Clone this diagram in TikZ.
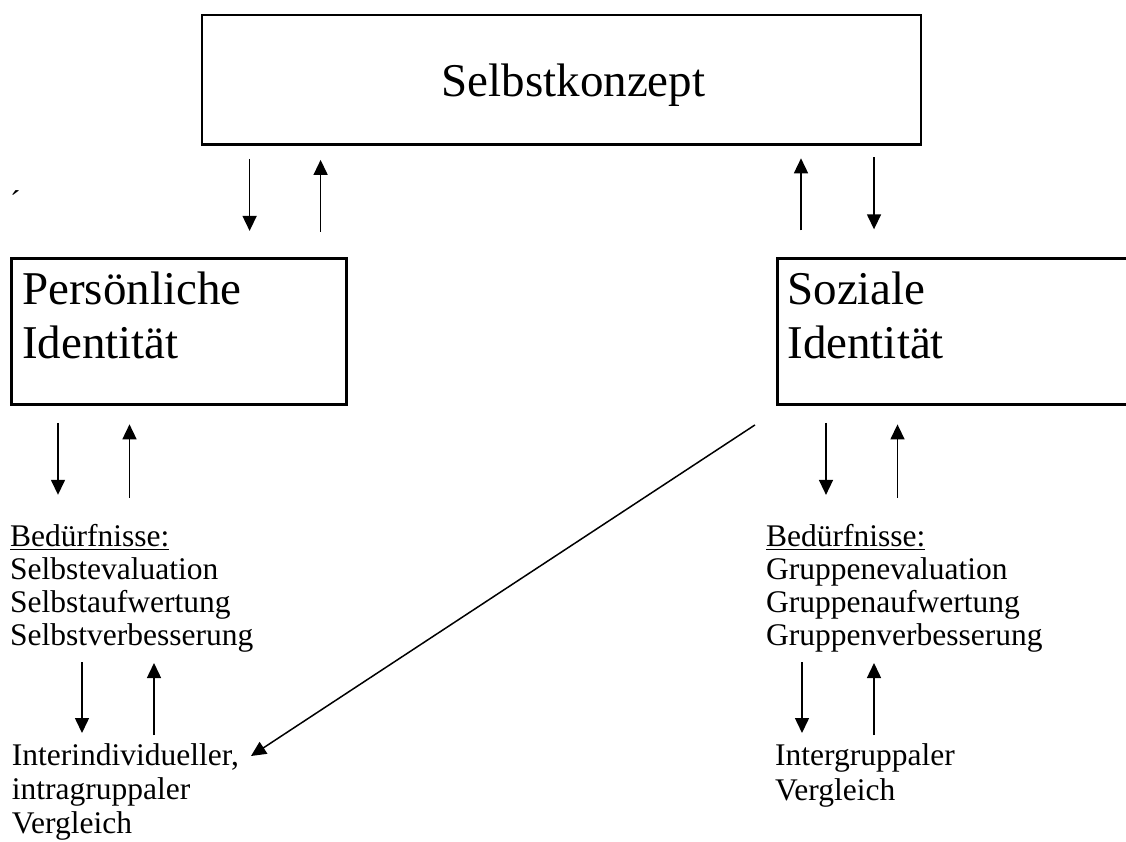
\documentclass[tikz,border=0pt]{standalone}
\usepackage{fontspec}
\setmainfont{Liberation Serif}
\usetikzlibrary{arrows.meta,calc}

\newcommand{\grossschrift}{\fontsize{47}{54}\selectfont}
\newcommand{\kleinschrift}{\fontsize{31.5}{32.7}\selectfont}

\begin{document}
\begin{tikzpicture}[x=1pt,y=-1pt,
    kasten/.style={draw, line width=2.8pt, inner sep=0pt, font=\grossschrift},
    pfeil/.style={line width=1.5pt, -{Triangle[length=15pt,width=14pt]}},
    liste/.style={font=\kleinschrift, align=left, anchor=base west, inner sep=0pt}]
  \useasboundingbox (0,0) rectangle (1126,841);
  \clip (0,0) rectangle (1126,841);

  % Kaesten
  \node[kasten, minimum width=719pt, minimum height=129.5pt, text height=44pt, text depth=10pt]
    (konzept) at (561.5,79.75) {\hspace*{24pt}Selbstkonzept};
  \node[kasten, anchor=north west, minimum width=335pt, minimum height=146pt, text width=314pt,
    align=left, inner xsep=10.7pt, text height=46.3pt, text depth=99.7pt]
    (person) at (10,256.7) {Persönliche\\Identität};
  \node[kasten, anchor=north west, minimum width=360pt, minimum height=145.5pt, text width=340pt,
    align=left, inner xsep=10pt, text height=45.4pt, text depth=100.1pt]
    (sozial) at (776,257.3) {Soziale\\Identität};

  % Texte (Anker: Grundlinie der letzten Zeile)
  \node[liste] (akzent) at (10,212) {´};
  \node[liste] (bedpers) at (10,645)
    {\underline{Bedürfnisse:}\\Selbstevaluation\\Selbstaufwertung\\Selbstverbesserung};
  \node[liste] (bedsoz) at (766,645)
    {\underline{Bedürfnisse:}\\Gruppenevaluation\\Gruppenaufwertung\\Gruppenverbesserung};
  \node[liste, font=\fontsize{31.5}{34}\selectfont] (vglpers) at (11.7,833)
    {Interindividueller,\\intragruppaler\\Vergleich};
  \node[liste, font=\fontsize{31.5}{35}\selectfont] (vglsoz) at (775,800)
    {Intergruppaler\\Vergleich};

  % Pfeile
  \draw[pfeil] ($(konzept.south west)+(49,13)$) -- ++(0,72);
  \draw[pfeil] ($(konzept.south west)+(120,86)$) -- ++(0,-72);
  \draw[pfeil] ($(sozial.north west)+(25,-27)$) -- ++(0,-72);
  \draw[pfeil] ($(sozial.north west)+(98,-100)$) -- ++(0,72);

  \draw[pfeil] ($(person.south west)+(48,17.3)$) -- ++(0,72);
  \draw[pfeil] ($(person.south west)+(119.5,92.3)$) -- ++(0,-73.5);
  \draw[pfeil] ($(sozial.south west)+(50,17.3)$) -- ++(0,72);
  \draw[pfeil] ($(sozial.south west)+(121.5,92.3)$) -- ++(0,-73.5);

  \draw[pfeil] ($(bedpers.base west)+(72,17)$) -- ++(0,71);
  \draw[pfeil] ($(bedpers.base west)+(144,90)$) -- ++(0,-72);
  \draw[pfeil] ($(bedsoz.base west)+(36,17)$) -- ++(0,71);
  \draw[pfeil] ($(bedsoz.base west)+(108,90)$) -- ++(0,-72);

  \draw[pfeil] ($(sozial.south west)+(-21,19.3)$) -- ($(vglpers.base west)+(239.3,-77)$);
\end{tikzpicture}
\end{document}
